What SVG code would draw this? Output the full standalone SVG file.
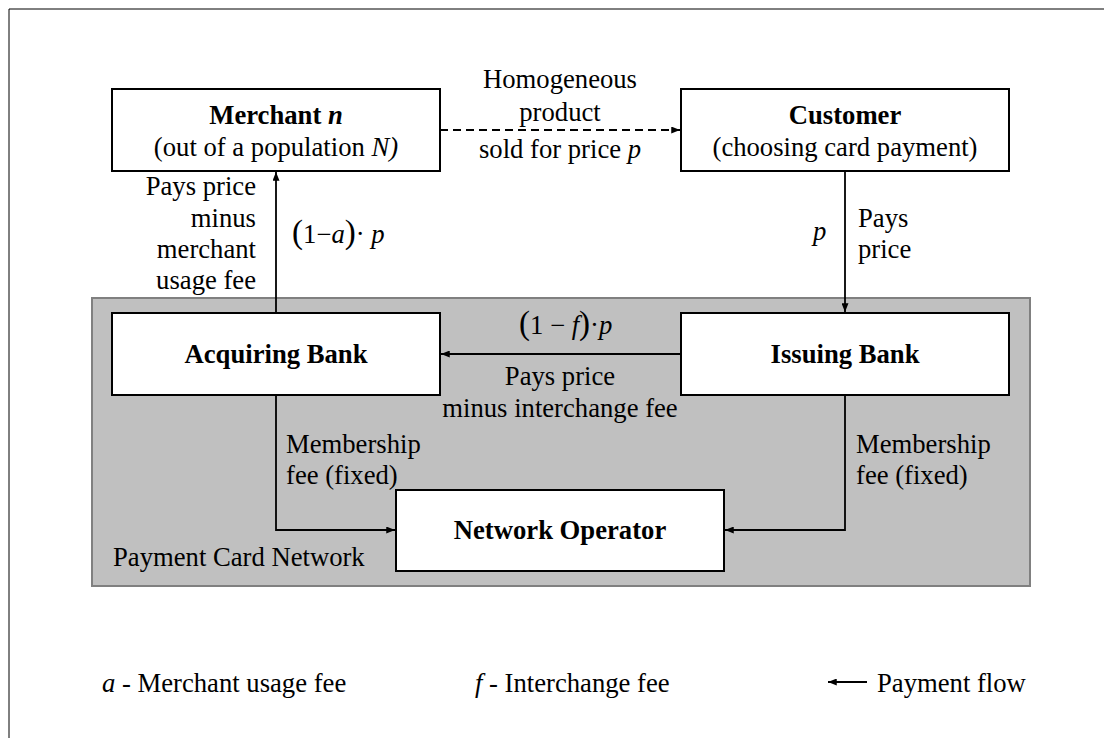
<svg xmlns="http://www.w3.org/2000/svg" width="1104" height="738" viewBox="0 0 1104 738">
<style>
text{font-family:"Liberation Serif","Times New Roman",serif;font-size:26.67px;fill:#000}
.b{font-weight:bold}
.i{font-style:italic}
.c{text-anchor:middle}
.e{text-anchor:end}
.box{fill:#fff;stroke:#000;stroke-width:2}
.ln{fill:none;stroke:#000;stroke-width:1.8}
.dash{stroke-dasharray:8,5;stroke-width:2}
.par{font-size:33px}
</style>
<defs>
<marker id="ah" viewBox="0 0 10 8" refX="10" refY="4" markerWidth="9" markerHeight="7" markerUnits="userSpaceOnUse" orient="auto">
<path d="M0,0 L10,4 L0,8 z" fill="#000"/>
</marker>
</defs>
<rect width="1104" height="738" fill="#fff"/>
<path d="M9,738 L9,9 L1104,9" fill="none" stroke="#000" stroke-width="1"/>
<g id="network-region">
<rect x="92" y="298" width="938" height="288" fill="#c0c0c0" stroke="#808080" stroke-width="2"/>
<text x="113" y="566">Payment Card Network</text>
</g>
<g id="connectors">
<path class="ln dash" d="M440,130 L680,130" marker-end="url(#ah)"/>
<path class="ln" d="M276,313 L276,172" marker-end="url(#ah)"/>
<path class="ln" d="M845,171 L845,312" marker-end="url(#ah)"/>
<path class="ln" d="M681,354 L441,354" marker-end="url(#ah)"/>
<path class="ln" d="M276,395 L276,530 L395,530" marker-end="url(#ah)"/>
<path class="ln" d="M845,394 L845,530 L725,530" marker-end="url(#ah)"/>
</g>
<g id="merchant">
<rect class="box" x="112" y="89" width="328" height="82"/>
<text class="c b" x="276" y="124">Merchant <tspan class="i">n</tspan></text>
<text class="c" x="276" y="156">(out of a population <tspan class="i">N)</tspan></text>
</g>
<g id="customer">
<rect class="box" x="681" y="89" width="328" height="82"/>
<text class="c b" x="845" y="124">Customer</text>
<text class="c" x="845" y="156">(choosing card payment)</text>
</g>
<g id="acquiring-bank">
<rect class="box" x="112" y="313" width="328" height="82"/>
<text class="c b" x="276" y="363">Acquiring Bank</text>
</g>
<g id="issuing-bank">
<rect class="box" x="681" y="313" width="328" height="82"/>
<text class="c b" x="845" y="363">Issuing Bank</text>
</g>
<g id="network-operator">
<rect class="box" x="396" y="490" width="328" height="81"/>
<text class="c b" x="560" y="539">Network Operator</text>
</g>
<g id="labels">
<text class="c" x="560" y="88">Homogeneous</text>
<text class="c" x="560" y="121">product</text>
<text class="c" x="560" y="158">sold for price <tspan class="i">p</tspan></text>
<text class="e" x="256" y="195">Pays price</text>
<text class="e" x="256" y="227">minus</text>
<text class="e" x="256" y="258">merchant</text>
<text class="e" x="256" y="289">usage fee</text>
<text x="292" y="243"><tspan class="par">(</tspan>1−<tspan class="i">a</tspan><tspan class="par">)</tspan>· <tspan class="i">p</tspan></text>
<text class="i" x="813" y="240">p</text>
<text x="858" y="227">Pays</text>
<text x="858" y="258">price</text>
<text x="519" y="334"><tspan class="par">(</tspan>1 − <tspan class="i">f</tspan><tspan class="par">)</tspan>·<tspan class="i">p</tspan></text>
<text class="c" x="560" y="385">Pays price</text>
<text class="c" x="560" y="417">minus interchange fee</text>
<text x="286" y="453">Membership</text>
<text x="286" y="484">fee (fixed)</text>
<text x="856" y="453">Membership</text>
<text x="856" y="484">fee (fixed)</text>
</g>
<g id="legend">
<text x="102" y="692"><tspan class="i">a</tspan> - Merchant usage fee</text>
<text x="475" y="692"><tspan class="i">f</tspan> - Interchange fee</text>
<path class="ln" d="M867,682 L828,682" marker-end="url(#ah)"/>
<text x="877" y="692">Payment flow</text>
</g>
</svg>
